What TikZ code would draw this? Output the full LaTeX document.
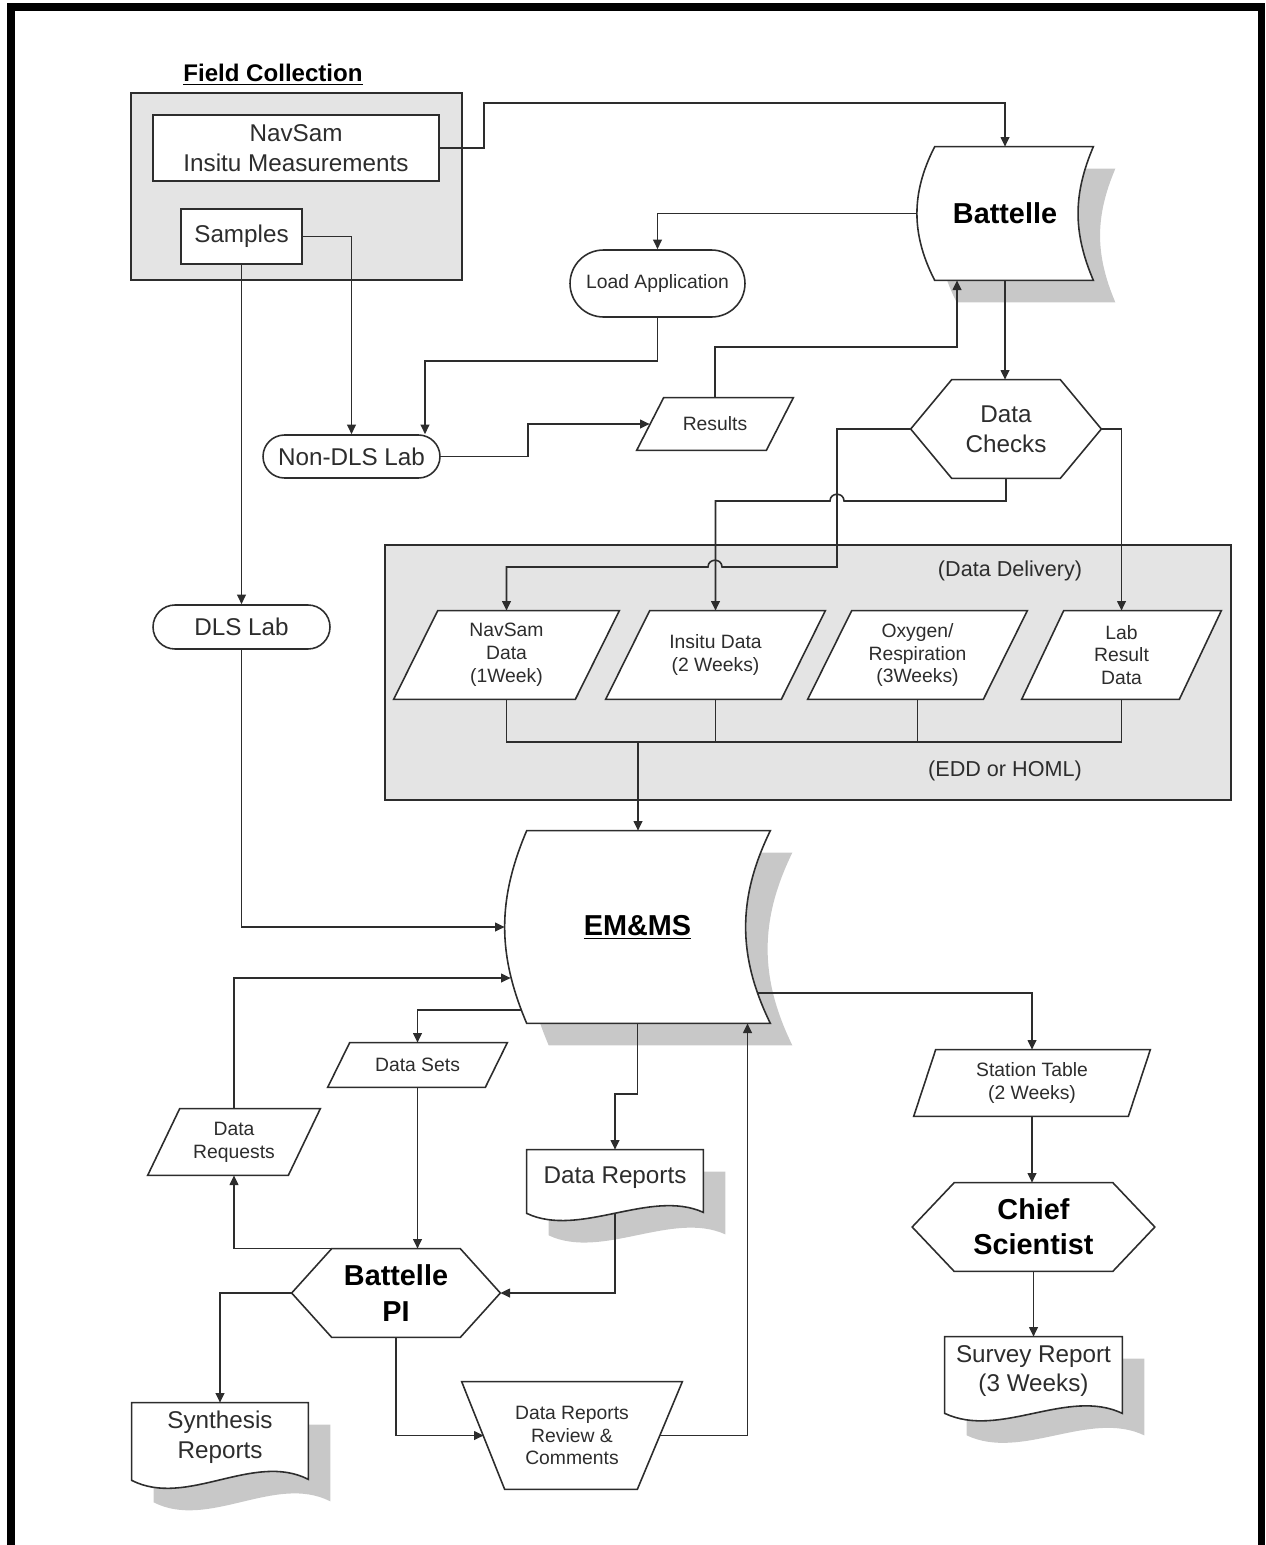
\documentclass[tikz,border=0pt]{standalone}
\usepackage{fontspec}
\setmainfont{Liberation Sans}
\usepackage{tikz}
\usetikzlibrary{calc,backgrounds,arrows.meta,shapes.misc,shadows}

\definecolor{inkgray}{RGB}{45,45,45}
\definecolor{panegray}{RGB}{228,228,228}
\definecolor{shadegray}{RGB}{200,200,200}

\begin{document}
\begin{tikzpicture}[x=0.02cm, y=-0.02cm,
ink/.style={draw=inkgray, line width=0.9pt},
flow/.style={ink, -{Triangle[length=5.5pt, width=5pt]}},
card/.style={ink, fill=white},
shadowed/.style={drop shadow={shadow xshift=0.44cm, shadow yshift=-0.44cm, fill=shadegray, opacity=1}},
lbl/.style={text=inkgray, align=center, inner sep=0pt, font=\fontsize{13.8}{17}\selectfont},
lblsmall/.style={lbl, font=\fontsize{11}{13}\selectfont},
lblbold/.style={lbl, text=black, font=\fontsize{16.4}{20}\selectfont\bfseries},
pill/.style={card, rounded rectangle, minimum width=3.54cm}
]
\useasboundingbox (0,0) rectangle (1265,1545);

%Frame
\draw[line width=4pt] (11,1545) -- (11,7) -- (1261,7) -- (1261,1545);

%Nodes
\node[lbl, text=black, font=\fontsize{13.7}{16}\selectfont\bfseries] (fctitle) at (273,75) {\underline{Field Collection}};
\node[card, lbl, minimum width=5.72cm, minimum height=1.32cm] (navsam) at (296,148) {NavSam\\Insitu Measurements};
\node[card, lbl, minimum width=2.42cm, minimum height=1.10cm] (samples) at (241.5,236.5) {Samples};
\node[lblbold, minimum width=3.52cm, minimum height=2.66cm] (bat) at (1005,213.5) {Battelle};
\node[pill, lblsmall, minimum width=3.5cm, minimum height=1.34cm] (load) at (657.5,283.5) {Load Application};
\node[pill, lbl, minimum height=0.86cm] (nondls) at (351.5,456.5) {Non-DLS Lab};
\node[lblsmall, minimum width=3.12cm, minimum height=1.04cm] (res) at (715,424) {Results};
\node[lbl, minimum width=3.8cm, minimum height=1.96cm] (chk) at (1006,429) {Data\\Checks};
\node[pill, lbl, minimum height=0.88cm] (dls) at (241.5,627) {DLS Lab};

\node[lbl, font=\fontsize{12.3}{15}\selectfont] (deliv) at (1010,571) {(Data Delivery)};
\node[lbl, font=\fontsize{12.3}{15}\selectfont] (edd) at (1005,771) {(EDD or HOML)};
\node[lblsmall, minimum width=4.5cm, minimum height=1.76cm] (navd) at (506.5,655) {NavSam\\Data\\(1Week)};
\node[lblsmall, minimum width=4.38cm, minimum height=1.76cm] (insd) at (715.5,655) {Insitu Data\\(2 Weeks)};
\node[lblsmall, minimum width=4.38cm, minimum height=1.76cm] (oxyd) at (917.5,655) {Oxygen/\\Respiration\\(3Weeks)};
\node[lblsmall, minimum width=3.98cm, minimum height=1.76cm] (labd) at (1121.5,655) {Lab\\Result\\Data};

\node[lblbold, minimum width=5.3cm, minimum height=3.84cm] (emms) at (637.5,927) {\underline{EM\&MS}};
\node[lblsmall, minimum width=3.58cm, minimum height=0.88cm] (dsets) at (417.5,1065) {Data Sets};
\node[lblsmall, minimum width=3.44cm, minimum height=1.32cm] (dreq) at (234,1142) {Data\\Requests};
\node[lbl, minimum width=3.52cm, minimum height=1.1cm] (drep) at (615,1177.5) {Data Reports};
\node[lblbold, minimum width=4.16cm, minimum height=1.76cm] (pi) at (396,1293) {Battelle\\PI};
\node[lbl, minimum width=3.52cm, minimum height=1.36cm] (synth) at (220,1437) {Synthesis\\Reports};
\node[lblsmall, minimum width=4.4cm, minimum height=2.14cm] (rev) at (572,1435.5) {Data Reports\\Review \&\\Comments};
\node[lblsmall, minimum width=4.72cm, minimum height=1.32cm] (stat) at (1032,1083) {Station Table\\(2 Weeks)};
\node[lblbold, minimum width=4.84cm, minimum height=1.76cm] (chief) at (1033.5,1227) {Chief\\Scientist};
\node[lbl, minimum width=3.54cm, minimum height=1.36cm] (surv) at (1033.5,1371) {Survey Report\\(3 Weeks)};

%Shapes
\begin{scope}[on background layer]
\draw[ink, fill=panegray] (131,93) rectangle (462,280);
\draw[ink, fill=panegray] (385,545) rectangle (1231,800);

\draw[card, shadowed] ($(bat.north west)+(18,0)$) to[bend right=27] ($(bat.south west)+(18,0)$) -- (bat.south east) to[bend left=23] (bat.north east) -- cycle;
\draw[card, shadowed] ($(emms.north west)+(22,0)$) to[bend right=23] ($(emms.south west)+(22,0)$) -- (emms.south east) to[bend left=26] (emms.north east) -- cycle;

\draw[card, shadowed] (drep.north west) -- ($(drep.south west)+(0,8)$) .. controls +(53,25) and +(-53,-24) .. ($(drep.south east)+(0,7)$) -- (drep.north east) -- cycle;
\draw[card, shadowed] (synth.north west) -- ($(synth.south west)+(0,9)$) .. controls +(55,28) and +(-55,-28) .. ($(synth.south east)+(0,8)$) -- (synth.north east) -- cycle;
\draw[card, shadowed] (surv.north west) -- ($(surv.south west)+(0,8)$) .. controls +(55,26) and +(-55,-26) .. ($(surv.south east)+(0,8)$) -- (surv.north east) -- cycle;

\draw[card] ($(chk.north west)+(41,0)$) -- ($(chk.north east)+(-41,0)$) -- (chk.east) -- ($(chk.south east)+(-41,0)$) -- ($(chk.south west)+(41,0)$) -- (chk.west) -- cycle;
\draw[card] ($(pi.north west)+(40,0)$) -- ($(pi.north east)+(-40,0)$) -- (pi.east) -- ($(pi.south east)+(-40,0)$) -- ($(pi.south west)+(40,0)$) -- (pi.west) -- cycle;
\draw[card] ($(chief.north west)+(42,0)$) -- ($(chief.north east)+(-42,0)$) -- (chief.east) -- ($(chief.south east)+(-42,0)$) -- ($(chief.south west)+(42,0)$) -- (chief.west) -- cycle;

\draw[card] ($(res.north west)+(27,0)$) -- (res.north east) -- ($(res.south east)+(-27,0)$) -- (res.south west) -- cycle;
\draw[card] ($(navd.north west)+(44,0)$) -- (navd.north east) -- ($(navd.south east)+(-44,0)$) -- (navd.south west) -- cycle;
\draw[card] ($(insd.north west)+(44,0)$) -- (insd.north east) -- ($(insd.south east)+(-44,0)$) -- (insd.south west) -- cycle;
\draw[card] ($(oxyd.north west)+(44,0)$) -- (oxyd.north east) -- ($(oxyd.south east)+(-44,0)$) -- (oxyd.south west) -- cycle;
\draw[card] ($(labd.north west)+(42,0)$) -- (labd.north east) -- ($(labd.south east)+(-42,0)$) -- (labd.south west) -- cycle;
\draw[card] ($(dsets.north west)+(22,0)$) -- (dsets.north east) -- ($(dsets.south east)+(-22,0)$) -- (dsets.south west) -- cycle;
\draw[card] ($(dreq.north west)+(32,0)$) -- (dreq.north east) -- ($(dreq.south east)+(-32,0)$) -- (dreq.south west) -- cycle;
\draw[card] ($(stat.north west)+(22,0)$) -- (stat.north east) -- ($(stat.south east)+(-22,0)$) -- (stat.south west) -- cycle;

\draw[card] (rev.north west) -- (rev.north east) -- ($(rev.south east)+(-45,0)$) -- ($(rev.south west)+(43,0)$) -- cycle;
\end{scope}

%Lines
\coordinate (navknee) at (484,103);
\coordinate (loadknee) at (425,361);
\coordinate (nonknee) at (528,424);
\coordinate (resknee) at (957,347);
\coordinate (hopA) at (715,567);
\coordinate (hopB) at (837,501);
\coordinate (bus) at (638,742);
\coordinate (emknee) at (615,1094);

\draw[flow] (navsam.east) -| (navknee) -| (bat.north);
\draw[flow] (bat.west) -| (load.north);
\draw[flow] (load.south) |- (loadknee) -- (loadknee |- nondls.north);
\draw[flow] (samples.east) -| (nondls.north);
\draw[flow] (nondls.east) -| (nonknee) -- ($(res.west)+(13,0)$);
\draw[flow] (res.north) |- (resknee) -- (resknee |- bat.south);
\draw[flow] (bat.south) -- (bat.south |- chk.north);

\draw[flow] (chk.west) -| ($(hopB)+(0,66)$) -- ($(hopA)+(7,0)$) .. controls +(0,-9) and +(0,-9) .. ($(hopA)+(-7,0)$) -| (navd.north);
\draw[flow] (chk.south) |- ($(hopB)+(7,0)$) .. controls +(0,-9) and +(0,-9) .. ($(hopB)+(-7,0)$) -| (insd.north);
\draw[flow] (chk.east) -| (labd.north);

\draw[ink] (navd.south) |- (labd.south |- bus) -- (labd.south);
\draw[ink] (insd.south) -- (insd.south |- bus);
\draw[ink] (oxyd.south) -- (oxyd.south |- bus);
\draw[flow] (bus) -- (bus |- emms.north);

\draw[flow] (samples.south) -- (dls.north);
\draw[flow] (dls.south) |- (emms.west);
\draw[flow] (dreq.north) |- ($(emms.west)+(6,51)$);
\draw[flow] ($(emms.west)+(16,83)$) -| (dsets.north);
\draw[flow] (dsets.south) -- (dsets.south |- pi.north);
\draw[flow] (emms.south) |- (emknee) -- (drep.north);
\draw[flow] ($(drep.south)+(0,8)$) |- (pi.east);
\draw[flow] ($(pi.north west)+(40,0)$) -| (dreq.south);
\draw[flow] (pi.west) -| (synth.north);
\draw[flow] (pi.south) |- ($(rev.west)+(22,0)$);
\draw[flow] ($(rev.east)+(-22,0)$) -| ($(emms.south)+(110,0)$);

\draw[flow] ($(emms.east)+(-13,66)$) -| (stat.north);
\draw[flow] (stat.south) -- (stat.south |- chief.north);
\draw[flow] (chief.south) -- (chief.south |- surv.north);
\end{tikzpicture}
\end{document}
